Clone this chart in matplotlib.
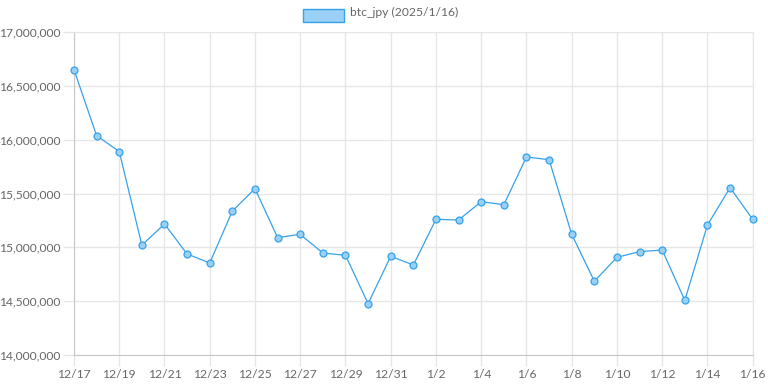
import matplotlib
matplotlib.use("Agg")
import matplotlib.pyplot as plt
from matplotlib.patches import Rectangle
from matplotlib.ticker import FuncFormatter, MultipleLocator

plt.rcParams['font.family'] = ['Lato', 'DejaVu Sans']

# daily btc_jpy close, 2024/12/17 .. 2025/1/16
dates = ["12/17", "12/18", "12/19", "12/20", "12/21", "12/22", "12/23", "12/24",
         "12/25", "12/26", "12/27", "12/28", "12/29", "12/30", "12/31", "1/1",
         "1/2", "1/3", "1/4", "1/5", "1/6", "1/7", "1/8", "1/9", "1/10", "1/11",
         "1/12", "1/13", "1/14", "1/15", "1/16"]
prices = [16650000, 16037000, 15890000, 15020000, 15217000, 14938000, 14855000,
          15337000, 15545000, 15090000, 15121000, 14947000, 14926000, 14477000,
          14917000, 14836000, 15260000, 15254000, 15424000, 15396000, 15839000,
          15814000, 15121000, 14685000, 14907000, 14960000, 14975000, 14508000,
          15207000, 15554000, 15260000]
legend_label = "btc_jpy (2025/1/16)"

line_color = "#36a2eb"
fill_color = "#9ad0f5"
grid_color = "#e6e6e6"
axis_color = "#c8c8c8"
text_color = "#666666"

fig = plt.figure(figsize=(7.68, 3.84), dpi=100)
ax = fig.add_axes([74/768, (384-355)/384, (752.7-74)/768, (355-32)/384])

x = list(range(len(dates)))
ax.plot(x, prices, color=line_color, lw=0.9, marker="o", ms=5.0,
        markerfacecolor=fill_color, markeredgecolor=line_color, markeredgewidth=0.9,
        zorder=3, clip_on=False)

ax.set_xlim(0, len(dates) - 1)
ax.set_ylim(14000000, 17000000)
ax.set_xticks(x[::2])
ax.set_xticklabels(dates[::2])
ax.yaxis.set_major_locator(MultipleLocator(500000))
ax.yaxis.set_major_formatter(FuncFormatter(lambda v, p: f"{int(v):,}"))

ax.tick_params(axis="both", color=grid_color, length=8, width=1.0,
               labelcolor=text_color, labelsize=8.7, pad=2)
ax.grid(True, color=grid_color, lw=1.0)
ax.set_axisbelow(True)
for s in ["top", "right"]:
    ax.spines[s].set_color(grid_color)
for s in ["left", "bottom"]:
    ax.spines[s].set_color(axis_color)

# legend box + label, top centre
fig.patches.append(Rectangle((303.3/768, 1 - 22/384), 41/768, 12.7/384,
                             transform=fig.transFigure, facecolor=fill_color,
                             edgecolor=line_color, lw=1.0))
fig.text(350/768, 1 - 12.5/384, legend_label, color=text_color, fontsize=8.7,
         va="center", ha="left")

fig.savefig("out.png", dpi=100)
